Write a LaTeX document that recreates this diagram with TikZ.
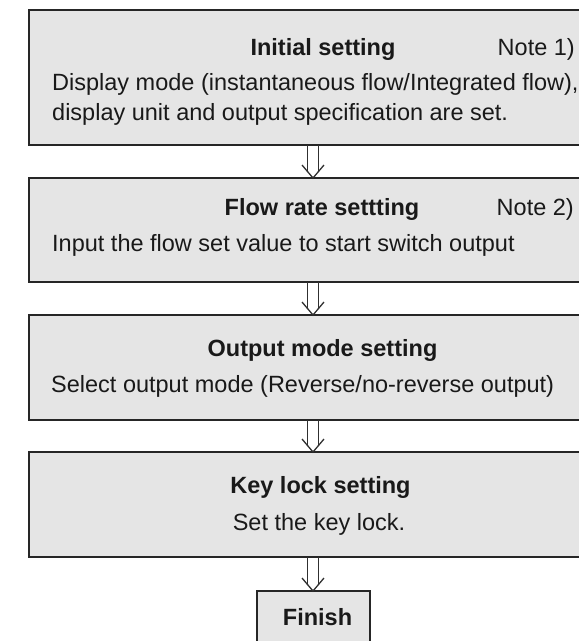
\documentclass[tikz,border=0pt]{standalone}
\usepackage{fontspec}
\setmainfont{Liberation Sans}
\definecolor{boxfill}{HTML}{E5E5E5}
\definecolor{boxline}{HTML}{262626}
\definecolor{arrline}{HTML}{303030}
\tikzset{
  flowbox/.style={draw=boxline, fill=boxfill, line width=2pt, rectangle, inner sep=0pt, outer sep=0pt},
  ttl/.style={font=\bfseries\fontsize{23.5}{28}\selectfont, inner sep=0pt, anchor=base, text=black!90},
  txt/.style={font=\fontsize{23.5}{28}\selectfont, inner sep=0pt, text=black!90},
  arr/.style={draw=arrline, line width=1.3pt},
}
\newcommand\flowarrow[2]{%
  \draw[arr] ([xshift=-5.5pt]#1.south) -- ([xshift=-5.5pt,yshift=6.5pt]#2.north);
  \draw[arr] ([xshift=5.5pt]#1.south) -- ([xshift=5.5pt,yshift=6.5pt]#2.north);
  \draw[arr] ([xshift=-11pt,yshift=13pt]#2.north) -- (#2.north) -- ([xshift=11pt,yshift=13pt]#2.north);
}
\begin{document}
\begin{tikzpicture}[x=1pt,y=-1pt]
\useasboundingbox (0,0) rectangle (579,641);
\clip (0,0) rectangle (579,641);
% boxes
\node[flowbox, minimum width=568pt, minimum height=135pt] (b1) at (313,77.5) {};
\node[flowbox, minimum width=568pt, minimum height=104pt] (b2) at (313,230) {};
\node[flowbox, minimum width=568pt, minimum height=105pt] (b3) at (313,367.5) {};
\node[flowbox, minimum width=568pt, minimum height=105pt] (b4) at (313,504.5) {};
\node[flowbox, minimum width=113pt, minimum height=60pt] (fin) at (313,621) {};
% texts
\node[ttl] (t1) at (323,55) {Initial setting};
\node[txt, anchor=base east] (n1) at (575,55) {Note 1)};
\node[txt, anchor=base west] (d1a) at (52,90) {Display mode (instantaneous flow/Integrated flow),};
\node[txt, anchor=base west] (d1b) at (52,120) {display unit and output specification are set.};
\node[ttl] (t2) at (322,215) {Flow rate settting};
\node[txt, anchor=base east] (n2) at (574,215) {Note 2)};
\node[txt, anchor=base west] (d2) at (52,251) {Input the flow set value to start switch output};
\node[ttl] (t3) at (322.5,356) {Output mode setting};
\node[txt, anchor=base west] (d3) at (51,392) {Select output mode (Reverse/no-reverse output)};
\node[ttl] (t4) at (320.5,493) {Key lock setting};
\node[txt, anchor=base] (d4) at (319,530) {Set the key lock.};
\node[ttl] (tf) at (317.5,625.5) {Finish};
% arrows
\flowarrow{b1}{b2}
\flowarrow{b2}{b3}
\flowarrow{b3}{b4}
\flowarrow{b4}{fin}
\end{tikzpicture}
\end{document}
